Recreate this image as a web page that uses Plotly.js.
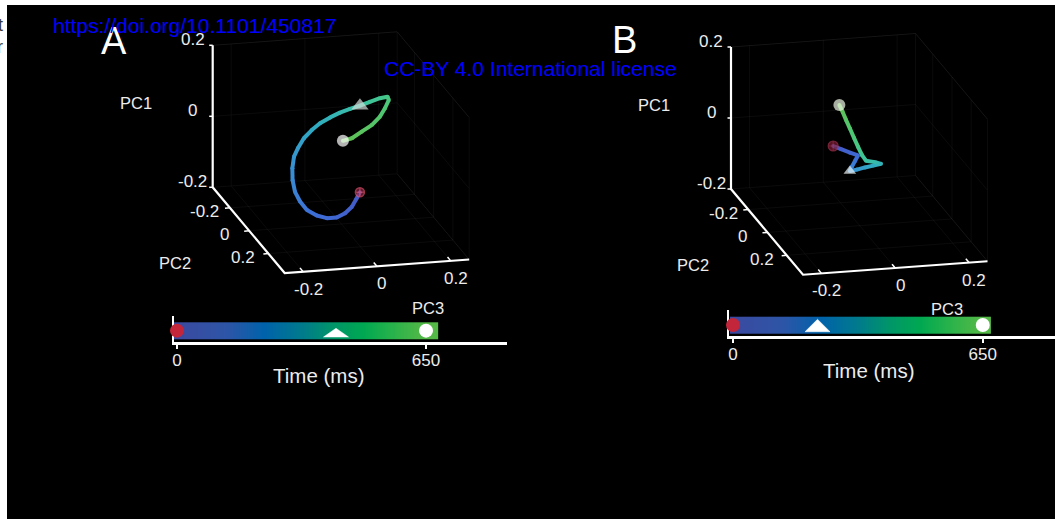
<!DOCTYPE html>
<html><head><meta charset="utf-8">
<script src="https://cdn.plot.ly/plotly-3.0.1.min.js"></script>
<style>html,body{margin:0;padding:0;background:#fff;overflow:hidden}#chart{width:1055px;height:519px}</style>
</head><body><div id="chart"></div>
<script>
// ---------- DATA ----------
// Panel A: neural trajectory in PC space, time in ms
const timeA = [0,21,42,62,83,104,125,145,166,187,208,228,249,270,291,311,332,353,374,394,415,439,462,486,509,533,556,580,603,627,650];
const pcA1 = [-0.080,-0.097,-0.123,-0.143,-0.157,-0.160,-0.154,-0.140,-0.118,-0.093,-0.063,-0.033,-0.004,0.017,0.039,0.057,0.071,0.082,0.090,0.095,0.102,0.111,0.119,0.125,0.119,0.100,0.081,0.062,0.049,0.036,0.034];
const pcA2 = [0.10,0.10,0.09,0.08,0.07,0.06,0.05,0.04,0.03,0.02,0.01,0.00,-0.01,-0.02,-0.03,-0.04,-0.05,-0.06,-0.07,-0.08,-0.08,-0.08,-0.08,-0.07,-0.06,-0.05,-0.04,-0.03,-0.02,-0.01,0.00];
const pcA3 = [0.024,0.015,0.005,-0.011,-0.031,-0.055,-0.080,-0.104,-0.120,-0.131,-0.135,-0.133,-0.126,-0.112,-0.094,-0.070,-0.045,-0.015,0.014,0.044,0.071,0.098,0.125,0.143,0.144,0.131,0.115,0.090,0.060,0.031,0.004];
const eventTimeA = [0, 415, 650];
const eventIdxA = [0, 20, 30];

// Panel B
const timeB = [0,37,73,110,147,183,220,253,286,319,352,385,418,451,484,517,551,584,617,650];
const pcB1 = [0.047,0.033,0.018,0.005,-0.010,-0.026,-0.037,-0.038,-0.037,-0.037,-0.037,-0.031,-0.025,-0.008,0.015,0.041,0.068,0.094,0.117,0.137];
const pcB2 = [0.05,0.04,0.03,0.02,0.02,0.02,0.02,0.01,0.00,-0.01,-0.02,-0.02,-0.02,-0.02,-0.02,-0.02,-0.02,-0.02,-0.02,-0.02];
const pcB3 = [-0.085,-0.061,-0.034,-0.010,-0.018,-0.027,-0.032,-0.010,0.014,0.039,0.063,0.047,0.022,0.011,0.001,-0.010,-0.021,-0.032,-0.041,-0.050];
const eventTimeB = [0, 220, 650];
const eventIdxB = [0, 6, 19];

// Axes / ticks
const pcRange1 = [-0.2, 0.2];
const pcRange2 = [-0.38, 0.37];
const pcRange3 = [-0.25, 0.25];
const pcTicks = [-0.2, 0, 0.2];
const pcTickText = ['-0.2', '0', '0.2'];
const timeTicks = [0, 650];
const timeTickText = ['0', '650'];
const timeMax = 650;

// ---------- STYLE ----------
const FONT = 'Liberation Sans, Arial, Helvetica, sans-serif';
const TXT = '#ececec';
const trajScale = [[0,'#4558c4'],[0.2,'#3d6ed6'],[0.35,'#3890d4'],[0.5,'#30acc0'],[0.65,'#3cc3a0'],[0.8,'#4cc878'],[1,'#62c052']];
const barScale = [[0,'#3b4a9f'],[0.2,'#2d55a7'],[0.35,'#0062ab'],[0.5,'#007a8c'],[0.62,'#00946a'],[0.75,'#00a851'],[0.88,'#2db34a'],[1,'#55b947']];

// orthographic view vectors (px per PC unit)
const V1 = [0, -355], V2 = [96, 114.3], V3 = [369, -27];
const originA = [212.7, 187.3], originB = [731, 189];

function proj(o, p1, p2, p3) {
  const a1 = p1 - pcRange1[0], a2 = p2 - pcRange2[0], a3 = p3 - pcRange3[0];
  return [o[0] + a1*V1[0] + a2*V2[0] + a3*V3[0], o[1] + a1*V1[1] + a2*V2[1] + a3*V3[1]];
}
function hex(h){return [parseInt(h.slice(1,3),16),parseInt(h.slice(3,5),16),parseInt(h.slice(5,7),16)];}
function scaleColor(scale, f) {
  f = Math.max(0, Math.min(1, f));
  for (let i = 1; i < scale.length; i++) {
    if (f <= scale[i][0]) {
      const a = scale[i-1], b = scale[i];
      const u = (f - a[0]) / (b[0] - a[0]);
      const ca = hex(a[1]), cb = hex(b[1]);
      return 'rgb(' + ca.map((c,k)=>Math.round(c + (cb[k]-c)*u)).join(',') + ')';
    }
  }
  return scale[scale.length-1][1];
}

const traces = [];
const annotations = [];

function addLineTrace(xs, ys, color, width) {
  traces.push({x: xs, y: ys, mode: 'lines', line: {color: color, width: width}, hoverinfo: 'skip', showlegend: false, xaxis: 'x', yaxis: 'y'});
}
function ann(x, y, text, size, color, extra) {
  annotations.push(Object.assign({x: x, y: y, xref: 'x', yref: 'y', text: text, showarrow: false,
    xanchor: 'center', yanchor: 'middle', font: {family: FONT, size: size, color: color}}, extra || {}));
}

function panel(o, P1, P2, P3, T, evIdx, evStyle, lw) {
  // faint back-plane grid
  const gx = [], gy = [];
  const seg = (a, b) => { gx.push(a[0], b[0], null); gy.push(a[1], b[1], null); };
  const g1 = pcTicks.concat([pcRange1[1]]);
  const g2 = pcTicks.concat([pcRange2[1]]);
  const g3 = pcTicks.concat([pcRange3[1]]);
  g1.forEach(v => { seg(proj(o, v, pcRange2[0], pcRange3[0]), proj(o, v, pcRange2[0], pcRange3[1]));
                    seg(proj(o, v, pcRange2[0], pcRange3[1]), proj(o, v, pcRange2[1], pcRange3[1])); });
  g3.forEach(v => { seg(proj(o, pcRange1[0], pcRange2[0], v), proj(o, pcRange1[1], pcRange2[0], v));
                    seg(proj(o, pcRange1[0], pcRange2[0], v), proj(o, pcRange1[0], pcRange2[1], v)); });
  g2.forEach(v => { seg(proj(o, pcRange1[0], v, pcRange3[1]), proj(o, pcRange1[1], v, pcRange3[1]));
                    seg(proj(o, pcRange1[0], v, pcRange3[0]), proj(o, pcRange1[0], v, pcRange3[1])); });
  addLineTrace(gx, gy, 'rgba(255,255,255,0.045)', 1);

  // main axis lines
  const c0 = proj(o, pcRange1[0], pcRange2[0], pcRange3[0]);
  const c1 = proj(o, pcRange1[1], pcRange2[0], pcRange3[0]);
  const c2 = proj(o, pcRange1[0], pcRange2[1], pcRange3[0]);
  const c3 = proj(o, pcRange1[0], pcRange2[1], pcRange3[1]);
  addLineTrace([c1[0], c0[0], c2[0], c3[0]], [c1[1], c0[1], c2[1], c3[1]], '#ffffff', 2.2);

  // tick stubs
  const tx = [], ty = [];
  pcTicks.forEach(v => {
    const a = proj(o, v, pcRange2[0], pcRange3[0]); tx.push(a[0], a[0]-3.5, null); ty.push(a[1], a[1], null);
    const b = proj(o, pcRange1[0], v, pcRange3[0]); tx.push(b[0], b[0]-5, null); ty.push(b[1], b[1]+0.4, null);
    const c = proj(o, pcRange1[0], pcRange2[1], v); tx.push(c[0], c[0]-3.2, null); ty.push(c[1], c[1]-3.8, null);
  });
  addLineTrace(tx, ty, '#ffffff', 1.5);

  // tick labels
  pcTicks.forEach((v, i) => {
    const a = proj(o, v, pcRange2[0], pcRange3[0]); ann(a[0]-20, a[1]-6, pcTickText[i], 17, TXT);
    const b = proj(o, pcRange1[0], v, pcRange3[0]); ann(b[0]-25, b[1]+4, pcTickText[i], 17, TXT);
    const c = proj(o, pcRange1[0], pcRange2[1], v); ann(c[0]+5, c[1]+17.5, pcTickText[i], 17, TXT);
  });
  const t1 = proj(o, 0, pcRange2[0], pcRange3[0]); ann(t1[0]-77, t1[1]-13, 'PC1', 16.5, TXT);
  ann(c0[0]-38, c0[1]+75.5, 'PC2', 16.5, TXT);
  ann(c3[0]-41, c3[1]+48, 'PC3', 16.5, TXT);

  // trajectory
  const pts = P1.map((v, i) => proj(o, P1[i], P2[i], P3[i]));
  for (let i = 0; i < pts.length - 1; i++) {
    addLineTrace([pts[i][0], pts[i+1][0]], [pts[i][1], pts[i+1][1]], scaleColor(trajScale, (T[i]+T[i+1])/2/timeMax), lw);
  }
  traces.push({x: pts.map(p=>p[0]), y: pts.map(p=>p[1]), mode: 'markers', xaxis: 'x', yaxis: 'y',
    marker: {size: lw, color: T.map(t=>scaleColor(trajScale, t/timeMax)), line: {width: 0}},
    hoverinfo: 'skip', showlegend: false});

  // event markers
  traces.push({x: evIdx.map(i=>pts[i][0]), y: evIdx.map(i=>pts[i][1]), mode: 'markers', xaxis: 'x', yaxis: 'y',
    marker: {symbol: evStyle.symbol, size: evStyle.size, color: evStyle.color,
             line: {color: evStyle.lineColor, width: evStyle.lineWidth}},
    hoverinfo: 'skip', showlegend: false});
}

panel(originA, pcA1, pcA2, pcA3, timeA, eventIdxA,
  {symbol: ['circle-cross','triangle-up','circle'], size: [9,15,12],
   color: ['rgba(150,40,70,0.9)','#d3dbd8','#ffffff'], lineColor: ['#e0506e','#d3dbd8','#ffffff'], lineWidth: [1.5,0,0]}, 4);
panel(originB, pcB1, pcB2, pcB3, timeB, eventIdxB,
  {symbol: ['circle-cross','triangle-up','circle'], size: [10,11,12],
   color: ['#7c1c34','#eef4f4','#eef6e6'], lineColor: ['#a8344e','#eef4f4','#eef6e6'], lineWidth: [1.2,0,0]}, 4);

// ---------- TIME COLOR BARS ----------
function colorBar(xa, ya, barFrom, barTo, yEdges, evTimes, markerY, triHalf, triY) {
  const edges = [], centers = [];
  for (let t = barFrom; t <= barTo + 0.001; t += 2) edges.push(t);
  for (let i = 0; i < edges.length - 1; i++) centers.push((edges[i]+edges[i+1])/2);
  traces.push({type: 'heatmap', x: edges, y: yEdges, z: [centers], zmin: 0, zmax: timeMax,
    colorscale: barScale, showscale: false, hoverinfo: 'skip', xaxis: xa, yaxis: ya});
  traces.push({x: [evTimes[0], evTimes[2]], y: [markerY, markerY], mode: 'markers', xaxis: xa, yaxis: ya, cliponaxis: false,
    marker: {symbol: 'circle', size: 14, color: ['#c3263a', '#ffffff']}, hoverinfo: 'skip', showlegend: false});
  const t = evTimes[1];
  traces.push({x: [t-triHalf, t+triHalf, t, t-triHalf], y: [triY[0], triY[0], triY[1], triY[0]], mode: 'lines',
    fill: 'toself', fillcolor: '#ffffff', line: {color: '#ffffff', width: 0.5}, xaxis: xa, yaxis: ya,
    hoverinfo: 'skip', showlegend: false});
}
colorBar('x2', 'y2', -10, 682, [0.124, 0.752], eventTimeA, 0.438, 32.6, [0.199, 0.526]);
colorBar('x3', 'y3', -8, 672, [0.104, 0.742], eventTimeB, 0.423, 32.5, [0.165, 0.642]);

const W = 1055, H = 519;
function timeAxis(domPx, rng, anchor) {
  return {domain: [domPx[0]/W, domPx[1]/W], range: rng, anchor: anchor, showline: true, linecolor: '#ffffff', linewidth: 2.5,
    ticks: 'outside', ticklen: 4, tickwidth: 1.5, tickcolor: '#ffffff', tickvals: timeTicks, ticktext: timeTickText,
    ticklabelstandoff: -3, layer: 'below traces',
    tickfont: {family: FONT, size: 17, color: TXT}, showgrid: false, zeroline: false, fixedrange: true};
}
function barYAxis(topPx, botPx, anchor) {
  return {domain: [1 - botPx/H, 1 - topPx/H], range: [0, 1], anchor: anchor, showline: true, linecolor: '#ffffff', linewidth: 2.5,
    layer: 'below traces',
    showticklabels: false, ticks: '', showgrid: false, zeroline: false, fixedrange: true};
}

// texts
ann(318.3, 375, 'Time (ms)', 20.5, TXT);
ann(868.3, 370, 'Time (ms)', 20.5, TXT);
ann(114, 41, 'A', 38, '#ffffff');
ann(624, 40, 'B', 38, '#ffffff');
ann(194, 25, 'https://doi.org/10.1101/450817', 21, '#0000ff');
ann(530, 68, 'CC-BY 4.0 International license', 21, '#0000ff');
ann(5, 25, 't', 18, '#3a3a3a', {xanchor: 'right'});
ann(5, 47, 'er', 18, '#3a3a3a', {xanchor: 'right'});

const layout = {
  width: W, height: H, margin: {l: 0, r: 0, t: 0, b: 0, pad: 0},
  paper_bgcolor: '#ffffff', plot_bgcolor: 'rgba(0,0,0,0)', showlegend: false,
  font: {family: FONT, color: TXT},
  xaxis: {domain: [0, 1], range: [0, W], visible: false, fixedrange: true},
  yaxis: {domain: [0, 1], range: [H, 0], visible: false, fixedrange: true},
  xaxis2: timeAxis([174, 506.7], [-7.8, 860.6], 'y2'),
  yaxis2: barYAxis(315.7, 342.3, 'x2'),
  xaxis3: timeAxis([729.3, 1055], [-9.6, 838], 'y3'),
  yaxis3: barYAxis(310, 336, 'x3'),
  shapes: [{type: 'rect', xref: 'paper', yref: 'paper', x0: 7/W, x1: 1, y0: 0, y1: 1 - 5/H,
            fillcolor: '#000000', line: {width: 0}, layer: 'below'}],
  annotations: annotations
};
Plotly.newPlot('chart', traces, layout, {displayModeBar: false, staticPlot: true});
</script></body></html>
